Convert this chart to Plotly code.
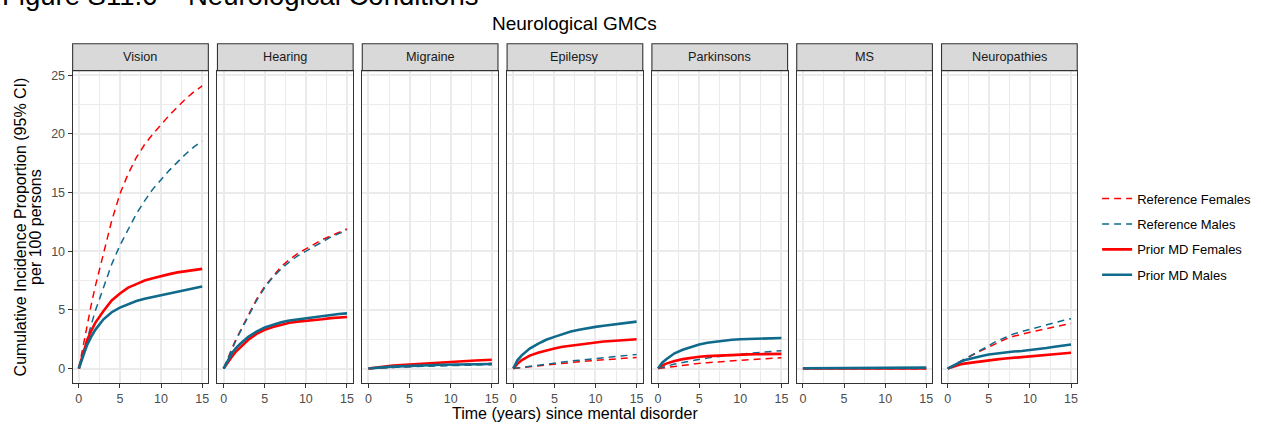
import plotly.graph_objects as go

W, H = 1265, 423

PANELS = ["Vision", "Hearing", "Migraine", "Epilepsy", "Parkinsons", "MS", "Neuropathies"]
SERIES = ["Reference Females", "Reference Males", "Prior MD Females", "Prior MD Males"]

TIME = [0, 0.5, 1, 1.5, 2, 3, 4, 5, 6, 7, 8, 9, 10, 11, 12, 13, 14, 15]

# cumulative incidence per 100 persons
VISION_REF_F = [0, 1.9, 3.7, 5.4, 7.0, 9.9, 12.6, 14.9, 16.6, 18.0, 19.1, 20.0, 20.8, 21.6, 22.3, 23.0, 23.6, 24.1]
VISION_REF_M = [0, 1.3, 2.5, 3.7, 4.9, 7.0, 8.9, 10.5, 11.9, 13.2, 14.3, 15.3, 16.1, 16.9, 17.6, 18.3, 18.9, 19.4]
VISION_MD_F = [0, 1.3, 2.4, 3.2, 3.9, 4.9, 5.8, 6.4, 6.9, 7.2, 7.5, 7.7, 7.9, 8.05, 8.2, 8.3, 8.45, 8.5]
VISION_MD_M = [0, 1.1, 2.0, 2.7, 3.3, 4.2, 4.8, 5.2, 5.5, 5.75, 5.95, 6.1, 6.25, 6.4, 6.55, 6.7, 6.85, 7.0]

HEARING_REF_F = [0, 0.9, 1.7, 2.5, 3.2, 4.6, 5.9, 7.0, 7.9, 8.7, 9.3, 9.8, 10.2, 10.6, 11.0, 11.3, 11.6, 11.9]
HEARING_REF_M = [0, 0.85, 1.65, 2.4, 3.1, 4.5, 5.8, 6.9, 7.8, 8.5, 9.1, 9.6, 10.0, 10.45, 10.85, 11.2, 11.5, 11.8]
HEARING_MD_F = [0, 0.55, 1.0, 1.45, 1.8, 2.45, 2.95, 3.3, 3.55, 3.75, 3.9, 4.0, 4.05, 4.15, 4.2, 4.3, 4.35, 4.4]
HEARING_MD_M = [0, 0.7, 1.3, 1.75, 2.1, 2.7, 3.15, 3.5, 3.75, 3.95, 4.1, 4.2, 4.3, 4.4, 4.5, 4.55, 4.65, 4.7]

MIGRAINE_REF_F = [0, 0.02, 0.04, 0.06, 0.08, 0.12, 0.15, 0.18, 0.21, 0.24, 0.27, 0.3, 0.33, 0.36, 0.38, 0.4, 0.42, 0.44]
MIGRAINE_REF_M = [0, 0.02, 0.03, 0.05, 0.07, 0.1, 0.13, 0.16, 0.18, 0.2, 0.22, 0.24, 0.26, 0.28, 0.3, 0.31, 0.32, 0.33]
MIGRAINE_MD_F = [0, 0.05, 0.1, 0.14, 0.18, 0.25, 0.3, 0.35, 0.4, 0.45, 0.5, 0.53, 0.56, 0.6, 0.64, 0.68, 0.72, 0.75]
MIGRAINE_MD_M = [0, 0.04, 0.07, 0.1, 0.12, 0.16, 0.2, 0.23, 0.26, 0.28, 0.3, 0.32, 0.33, 0.34, 0.35, 0.36, 0.37, 0.38]

EPILEPSY_REF_F = [0, 0.04, 0.08, 0.12, 0.16, 0.24, 0.32, 0.4, 0.46, 0.52, 0.58, 0.64, 0.7, 0.75, 0.8, 0.85, 0.9, 0.95]
EPILEPSY_REF_M = [0, 0.05, 0.1, 0.15, 0.2, 0.3, 0.4, 0.5, 0.57, 0.64, 0.71, 0.78, 0.85, 0.92, 0.99, 1.06, 1.13, 1.2]
EPILEPSY_MD_F = [0, 0.4, 0.7, 0.9, 1.1, 1.35, 1.55, 1.7, 1.85, 1.95, 2.05, 2.15, 2.25, 2.3, 2.35, 2.4, 2.45, 2.5]
EPILEPSY_MD_M = [0, 0.7, 1.1, 1.4, 1.7, 2.1, 2.45, 2.7, 2.95, 3.15, 3.3, 3.45, 3.55, 3.65, 3.75, 3.85, 3.95, 4.0]

PARKINSONS_REF_F = [0, 0.05, 0.1, 0.15, 0.2, 0.28, 0.36, 0.44, 0.5, 0.56, 0.62, 0.67, 0.72, 0.76, 0.8, 0.84, 0.88, 0.92]
PARKINSONS_REF_M = [0, 0.1, 0.2, 0.3, 0.38, 0.52, 0.66, 0.8, 0.9, 1.0, 1.08, 1.16, 1.24, 1.3, 1.36, 1.42, 1.47, 1.52]
PARKINSONS_MD_F = [0, 0.25, 0.42, 0.55, 0.65, 0.8, 0.92, 1.0, 1.06, 1.1, 1.14, 1.17, 1.2, 1.21, 1.22, 1.23, 1.24, 1.25]
PARKINSONS_MD_M = [0, 0.5, 0.8, 1.05, 1.3, 1.6, 1.85, 2.05, 2.2, 2.3, 2.4, 2.45, 2.5, 2.52, 2.54, 2.56, 2.58, 2.6]

MS_REF_F = [0, 0, 0, 0, 0, 0, 0, 0, 0, 0, 0, 0, 0, 0, 0, 0, 0, 0]
MS_REF_M = [0, 0, 0, 0, 0, 0, 0, 0, 0, 0, 0, 0, 0, 0, 0, 0, 0, 0]
MS_MD_F = [0, 0, 0, 0, 0, 0, 0, 0, 0, 0, 0, 0, 0, 0, 0, 0, 0, 0]
MS_MD_M = [0.03, 0.03, 0.03, 0.03, 0.03, 0.03, 0.03, 0.03, 0.03, 0.08, 0.08, 0.08, 0.08, 0.08, 0.08, 0.08, 0.08, 0.08]

NEURO_REF_F = [0, 0.2, 0.4, 0.6, 0.8, 1.15, 1.5, 1.85, 2.2, 2.5, 2.75, 2.95, 3.1, 3.25, 3.4, 3.55, 3.7, 3.85]
NEURO_REF_M = [0, 0.2, 0.4, 0.6, 0.8, 1.15, 1.6, 2.0, 2.35, 2.65, 2.95, 3.15, 3.35, 3.55, 3.75, 3.95, 4.1, 4.25]
NEURO_MD_F = [0, 0.12, 0.25, 0.35, 0.42, 0.52, 0.62, 0.7, 0.78, 0.85, 0.92, 0.98, 1.05, 1.12, 1.18, 1.24, 1.3, 1.35]
NEURO_MD_M = [0, 0.2, 0.4, 0.55, 0.7, 0.9, 1.05, 1.2, 1.3, 1.38, 1.45, 1.5, 1.57, 1.65, 1.75, 1.85, 1.95, 2.05]

PANEL_DATA = [
    [VISION_REF_F, VISION_REF_M, VISION_MD_F, VISION_MD_M],
    [HEARING_REF_F, HEARING_REF_M, HEARING_MD_F, HEARING_MD_M],
    [MIGRAINE_REF_F, MIGRAINE_REF_M, MIGRAINE_MD_F, MIGRAINE_MD_M],
    [EPILEPSY_REF_F, EPILEPSY_REF_M, EPILEPSY_MD_F, EPILEPSY_MD_M],
    [PARKINSONS_REF_F, PARKINSONS_REF_M, PARKINSONS_MD_F, PARKINSONS_MD_M],
    [MS_REF_F, MS_REF_M, MS_MD_F, MS_MD_M],
    [NEURO_REF_F, NEURO_REF_M, NEURO_MD_F, NEURO_MD_M],
]

X_TICKS = [0, 5, 10, 15]
Y_TICKS = [0, 5, 10, 15, 20, 25]

RED = "#FF0000"
BLUE = "#0F6A8B"
STYLES = [
    dict(color=RED, width=1.5, dash="7px,5px"),
    dict(color=BLUE, width=1.5, dash="7px,5px"),
    dict(color=RED, width=2.6),
    dict(color=BLUE, width=2.6),
]

FONT = "Liberation Sans, Arial, sans-serif"

# panel geometry in pixels
left0, pitch, pw = 72.7, 144.93, 135.8
ptop, pbot, strip_top = 69, 383, 42


def px_x(x):
    return x / W


def px_y(y):
    return 1 - y / H


fig = go.Figure()

for i, (name, series) in enumerate(zip(PANELS, PANEL_DATA)):
    ax = "" if i == 0 else str(i + 1)
    for j, vals in enumerate(series):
        fig.add_trace(go.Scatter(
            x=TIME, y=vals, mode="lines", name=SERIES[j],
            line=STYLES[j], legendgroup=SERIES[j], showlegend=(i == 0),
            xaxis="x" + ax, yaxis="y" + ax, hoverinfo="skip",
        ))

    x0 = left0 + i * pitch
    x1 = x0 + pw
    common = dict(
        showline=True, mirror=True, linecolor="#333333", linewidth=1.1,
        showgrid=True, gridcolor="#EBEBEB", gridwidth=1.6, zeroline=False,
        tickfont=dict(family=FONT, size=12.5, color="#4D4D4D"),
        fixedrange=True,
    )
    fig.update_layout(**{
        "xaxis" + ax: dict(
            domain=[px_x(x0), px_x(x1)], range=[-0.75, 15.75],
            tickvals=X_TICKS, ticks="outside", ticklen=4, tickcolor="#333333",
            minor=dict(tickvals=[2.5, 7.5, 12.5], showgrid=True,
                       gridcolor="#EBEBEB", gridwidth=0.8),
            anchor="y" + ax, **common),
        "yaxis" + ax: dict(
            domain=[px_y(pbot), px_y(ptop)], range=[-1.25, 25.4],
            tickvals=Y_TICKS, ticks="outside" if i == 0 else "",
            ticklen=4, tickcolor="#333333", showticklabels=(i == 0),
            minor=dict(tickvals=[2.5, 7.5, 12.5, 17.5, 22.5], showgrid=True,
                       gridcolor="#EBEBEB", gridwidth=0.8),
            anchor="x" + ax, **common),
    })

    # facet strip
    fig.add_shape(type="rect", xref="paper", yref="paper",
                  x0=px_x(x0), x1=px_x(x1), y0=px_y(ptop), y1=px_y(strip_top),
                  fillcolor="#D9D9D9", line=dict(color="#333333", width=1.1))
    fig.add_annotation(text=name, xref="paper", yref="paper",
                       x=px_x((x0 + x1) / 2), y=px_y((ptop + strip_top) / 2),
                       showarrow=False, xanchor="center", yanchor="middle",
                       font=dict(family=FONT, size=12.7, color="#1A1A1A"))

mid = left0 + (6 * pitch + pw) / 2

fig.add_annotation(text="Figure S11.6 \u2013 Neurological Conditions", xref="paper", yref="paper",
                   x=0, y=1.016, xanchor="left", yanchor="middle", showarrow=False,
                   font=dict(family=FONT, size=27.5, color="#000000"))
fig.add_annotation(text="Neurological GMCs", xref="paper", yref="paper",
                   x=px_x(mid), y=px_y(22), xanchor="center", yanchor="middle",
                   showarrow=False, font=dict(family=FONT, size=19, color="#000000"))
fig.add_annotation(text="Time (years) since mental disorder", xref="paper", yref="paper",
                   x=px_x(mid), y=px_y(413), xanchor="center", yanchor="middle",
                   showarrow=False, font=dict(family=FONT, size=16, color="#000000"))
fig.add_annotation(text="Cumulative Incidence Proportion (95% CI)", xref="paper", yref="paper",
                   x=px_x(20.5), y=px_y((ptop + pbot) / 2), textangle=-90,
                   xanchor="center", yanchor="middle", showarrow=False,
                   font=dict(family=FONT, size=16, color="#000000"))
fig.add_annotation(text="per 100 persons", xref="paper", yref="paper",
                   x=px_x(36), y=px_y((ptop + pbot) / 2), textangle=-90,
                   xanchor="center", yanchor="middle", showarrow=False,
                   font=dict(family=FONT, size=16, color="#000000"))

fig.update_layout(
    width=W, height=H,
    margin=dict(l=0, r=0, t=0, b=0),
    paper_bgcolor="white", plot_bgcolor="white",
    showlegend=True,
    legend=dict(x=px_x(1098), y=px_y(182.5), xanchor="left", yanchor="top",
                traceorder="grouped", tracegroupgap=5.5, itemwidth=30,
                bgcolor="rgba(0,0,0,0)",
                font=dict(family=FONT, size=13, color="#000000")),
)

# drop the browser's default body margin so the figure sits at the page corner
fig.write_html("out.html", config={"displayModeBar": False},
               post_script="document.body.style.margin = '0';")
